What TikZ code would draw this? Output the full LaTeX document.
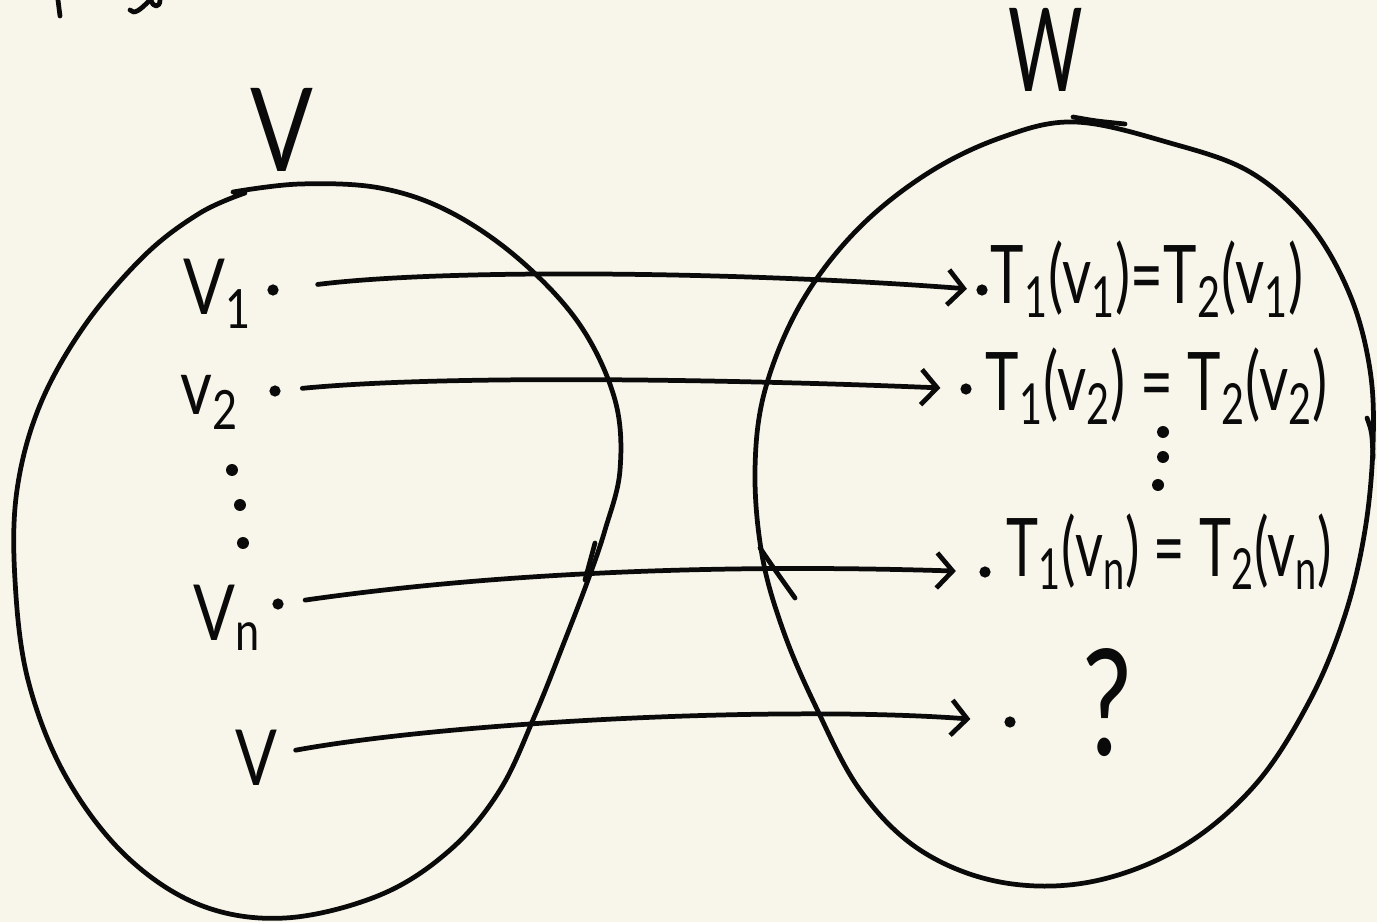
\documentclass[tikz,border=0pt]{standalone}
\usepackage{fontspec}
\setmainfont{Lato}
\usetikzlibrary{arrows.meta}
\definecolor{paper}{HTML}{F8F6EA}
\definecolor{ink}{HTML}{0A0A0A}
\newcommand{\slim}[2][0.72]{\scalebox{#1}[1]{#2}}

\begin{document}
\begin{tikzpicture}[x=0.01cm, y=-0.01cm,
    stroke/.style   = {draw=ink, line width=1.35pt, line cap=round, line join=round},
    setlabel/.style = {font=\fontsize{33}{38}\selectfont, text=ink, inner sep=0pt, anchor=base west},
    elem/.style     = {font=\fontsize{22}{26}\selectfont, text=ink, inner sep=0pt, anchor=base west},
    image/.style    = {font=\fontsize{23}{27}\selectfont, text=ink, inner sep=0pt, anchor=base west},
    pt/.style       = {circle, fill=ink, inner sep=0pt, minimum size=3.2pt},
    maparrow/.style = {stroke, -{Straight Barb[length=4.5pt, width=10pt]}},
]

% paper and fixed canvas
\fill[paper] (0,0) rectangle (1377,922);
\useasboundingbox (0,0) rectangle (1377,922);

% --- cut-off scribbles at the top edge ----------------------------------
\draw[stroke] (58,0) -- (60,16);
\draw[stroke] (130,10) .. controls (134,15) and (140,10) .. (149,1);
\draw[stroke] (151,0) .. controls (153,8) and (160,8) .. (160,0);

% --- the two sets --------------------------------------------------------
\draw[stroke] plot[smooth, tension=0.6] coordinates {
    (233,192) (300,184) (380,188) (450,212) (520,260) (580,325) (615,400)
    (620,470) (605,530) (588,580) (565,640) (535,715) (500,790) (450,850)
    (380,895) (285,918) (200,905) (125,855) (65,775) (28,680) (15,580)
    (17,490) (40,405) (85,325) (145,255) (200,213) (245,193)};
\draw[stroke] (595,543) -- (585,580);

\draw[stroke] plot[smooth cycle, tension=0.6] coordinates {
    (1075,122) (1170,143) (1250,172) (1310,225) (1350,295) (1370,370)
    (1373,445) (1365,530) (1345,615) (1310,700) (1255,785) (1180,848)
    (1090,882) (1000,882) (920,850) (860,790) (815,705) (783,630)
    (762,555) (755,470) (765,390) (800,305) (855,232) (925,175) (1000,138)};
\draw[stroke] (1073,117) .. controls (1095,121) .. (1125,124);
\draw[stroke] (1367,418) .. controls (1372,432) .. (1373,458);
\draw[stroke] (760,548) .. controls (775,570) .. (795,598);

\node[setlabel] (setV) at (250,172) {\slim[0.8]{V}};
\node[setlabel] (setW) at (1008,92) {\slim[0.62]{W}};

% --- elements of V -------------------------------------------------------
\node[elem] (lv1) at (183,315) {\slim[0.8]{V\textsubscript{1}}};
\node[elem] (lv2) at (180,415) {\slim[0.8]{v\textsubscript{2}}};
\node[elem] (lvn) at (193,640) {\slim[0.8]{V\textsubscript{n}}};
\node[elem] (lv)  at (235,785) {\slim[0.8]{V}};

\node[pt] (s1) at (273,290) {};
\node[pt] (s2) at (275,391) {};
\node[pt] (sn) at (278,604) {};

\foreach \y/\x in {470/232, 505/240, 543/243}
    \fill[ink] (\x,\y) circle (1.7pt);

% --- images in W ---------------------------------------------------------
\node[pt] (t1) at (982,290) {};
\node[pt] (t2) at (966,389) {};
\node[pt] (tn) at (985,572) {};
\node[pt] (tv) at (1010,722) {};

\node[image] (img1) at (990,304)
    {\slim[0.7]{T\textsubscript{1}(v\textsubscript{1})=T\textsubscript{2}(v\textsubscript{1})}};
\node[image] (img2) at (985,411)
    {\slim[0.7]{T\textsubscript{1}(v\textsubscript{2}) = T\textsubscript{2}(v\textsubscript{2})}};
\node[image] (imgn) at (1006,576)
    {\slim[0.67]{T\textsubscript{1}(v\textsubscript{n}) = T\textsubscript{2}(v\textsubscript{n})}};
\node[setlabel, font=\fontsize{42}{46}\selectfont] (unknown) at (1082,755) {\slim[0.75]{?}};

\foreach \y/\x in {432/1163, 457/1163, 485/1158}
    \fill[ink] (\x,\y) circle (1.7pt);

% --- the maps ------------------------------------------------------------
\draw[maparrow, shorten <=11pt, shorten >=2.5pt]
    (s1) .. controls (450,268) and (750,272) .. (t1);
\draw[maparrow, shorten <=6pt, shorten >=5.5pt]
    (s2) .. controls (450,374) and (750,380) .. (t2);
\draw[maparrow, shorten <=6pt, shorten >=6.5pt]
    (sn) .. controls (480,575) and (700,563) .. (tn);
\draw[maparrow, shorten <=5pt, shorten >=9.5pt]
    (lv) .. controls (450,722) and (780,705) .. (tv);

\end{tikzpicture}
\end{document}
